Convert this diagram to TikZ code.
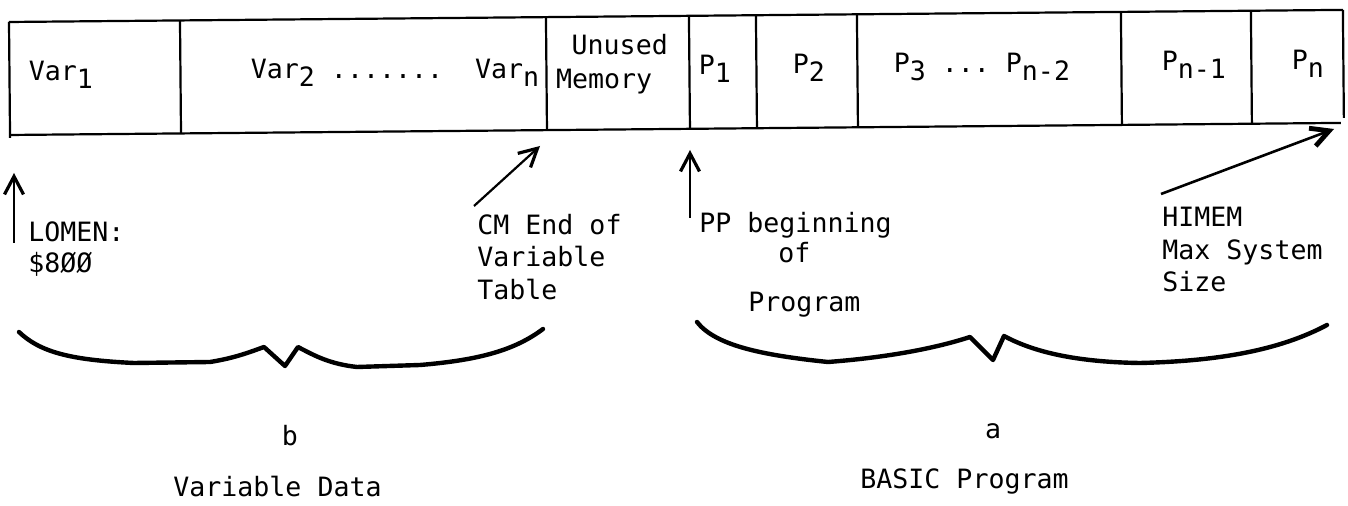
\documentclass[tikz,border=0pt]{standalone}
\usepackage{fontspec}
\setmonofont{DejaVu Sans Mono}
\usetikzlibrary{arrows.meta}
\newcommand{\lowr}[1]{\raisebox{-0.3em}{#1}}
\begin{document}
\begin{tikzpicture}[x=0.5pt,y=-0.5pt,
  txt/.style={font=\ttfamily\fontsize{13.3}{16}\selectfont, inner sep=0pt, anchor=base west},
  boxline/.style={line width=1.1pt},
  ptr/.style={line width=1.1pt, -{Straight Barb[length=9pt,width=9.5pt,line width=1.6pt]}},
  hptr/.style={line width=1.3pt, -{Straight Barb[length=9pt,width=9.5pt,line width=2.4pt]}},
  brace/.style={line width=2.2pt, line cap=round, line join=round}]
\useasboundingbox (0,0) rectangle (1348,506);

\begin{scope}[rotate around={0.52:(9,22)}]
  % memory box
  \draw[boxline] (9,22) -- (1343,22);
  \draw[boxline] (9,135) -- (1340,135);
  \draw[boxline] (9,22) -- (9,138);
  \draw[boxline] (1343,22) -- (1343,130);
  \foreach \xx in {180,546,689,756,857,1121,1251}
    \draw[boxline] (\xx,22) -- (\xx,135);
  % cell texts
  \node[txt] (var1) at (28,81) {Var\lowr{1}};
  \node[txt] (var2) at (250,81) {Var\lowr{2}~.......~~Var\lowr{n}};
  \node[txt] (unu) at (571,60) {Unused};
  \node[txt] (mem) at (555,93) {Memory};
  \node[txt] (p1) at (698,81) {P\lowr{1}};
  \node[txt] (p2) at (792,81) {P\lowr{2}};
  \node[txt] (p3) at (893,81) {P\lowr{3}~...~P\lowr{n-2}};
  \node[txt] (pn1) at (1161,81) {P\lowr{n-1}};
  \node[txt] (pn) at (1291,81) {P\lowr{n}};
\end{scope}

% pointer labels
\node[txt] (lom1) at (28,242) {LOMEN:};
\node[txt] (lom2) at (28,273) {\$8ØØ};
\node[txt] (cm1) at (477,235) {CM End of};
\node[txt] (cm2) at (477,267) {Variable};
\node[txt] (cm3) at (477,300) {Table};
\node[txt] (pp1) at (699,233) {PP beginning};
\node[txt] (pp2) at (778,263) {of};
\node[txt] (pp3) at (748,312) {Program};
\node[txt] (hi1) at (1162,227) {HIMEM};
\node[txt] (hi2) at (1162,260) {Max System};
\node[txt] (hi3) at (1162,292) {Size};

% pointers
\coordinate (lomT) at (14,243); \coordinate (lomH) at (14,173);
\coordinate (cmT) at (474,206); \coordinate (cmH) at (540,146);
\coordinate (ppT) at (690,218); \coordinate (ppH) at (690,150);
\coordinate (hiT) at (1161,194); \coordinate (hiH) at (1334,129);
\draw[ptr] (lomT) -- (lomH);
\draw[ptr] (cmT) -- (cmH);
\draw[ptr] (ppT) -- (ppH);
\draw[hptr] (hiT) -- (hiH);

% braces
\draw[brace] (19,332) .. controls (40,352) and (70,360) .. (134,363)
  -- (210,362) .. controls (235,358) and (250,352) .. (264,347)
  -- (285,366) -- (298,347) .. controls (315,356) and (330,364) .. (357,367)
  -- (420,365) .. controls (480,360) and (515,350) .. (543,329);
\draw[brace] (697,322) .. controls (715,345) and (760,355) .. (828,362)
  .. controls (880,358) and (930,350) .. (970,337)
  -- (993,360) -- (1004,336) .. controls (1030,350) and (1070,362) .. (1140,363)
  .. controls (1220,361) and (1280,350) .. (1327,325);

% bottom labels
\node[txt, anchor=base] (lb) at (290,446) {b};
\node[txt] (vd) at (173,497) {Variable Data};
\node[txt, anchor=base] (la) at (993,439) {a};
\node[txt] (bp) at (860,489) {BASIC Program};
\end{tikzpicture}
\end{document}
